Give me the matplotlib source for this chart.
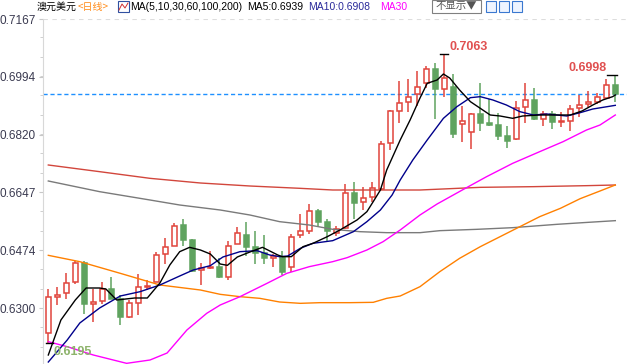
import matplotlib
matplotlib.use("Agg")
import matplotlib.pyplot as plt
from matplotlib.patches import Rectangle
from matplotlib.ticker import FixedLocator, AutoMinorLocator

plt.rcParams['font.family'] = ['Liberation Sans', 'Noto Sans CJK SC', 'DejaVu Sans']

# daily candles, AUD/USD (open, high, low, close)
opens = [0.6224, 0.6334, 0.6344, 0.6378, 0.6436, 0.6313, 0.6321, 0.6356, 0.6327, 0.6274,
         0.6316, 0.6362, 0.6377, 0.6461, 0.6486, 0.6549, 0.6504, 0.6414, 0.6421, 0.6423,
         0.6394, 0.6492, 0.6519, 0.6482, 0.6464, 0.6451, 0.6454, 0.6422, 0.6519, 0.6532,
         0.6591, 0.6557, 0.6526, 0.6539, 0.6646, 0.6617, 0.6634, 0.6656, 0.6794, 0.6892,
         0.6917, 0.6941, 0.6976, 0.7017, 0.6957, 0.6964, 0.6851, 0.6829, 0.6882, 0.6854,
         0.6849, 0.6817, 0.6806, 0.6904, 0.6924, 0.6866, 0.6881, 0.6857, 0.6862, 0.6899,
         0.6911, 0.6917, 0.6931, 0.6969]
highs = [0.6357, 0.6363, 0.6405, 0.6441, 0.6441, 0.6357, 0.6379, 0.6392, 0.6339, 0.6324,
         0.6402, 0.6384, 0.6469, 0.6510, 0.6556, 0.6566, 0.6507, 0.6434, 0.6471, 0.6451,
         0.6502, 0.6544, 0.6557, 0.6531, 0.6519, 0.6462, 0.6471, 0.6522, 0.6582, 0.6612,
         0.6597, 0.6567, 0.6547, 0.6672, 0.6677, 0.6664, 0.6679, 0.6801, 0.6894, 0.6981,
         0.6986, 0.7011, 0.7027, 0.7036, 0.7063, 0.7001, 0.6907, 0.6884, 0.6976, 0.6926,
         0.6886, 0.6846, 0.6921, 0.6974, 0.6959, 0.6891, 0.6891, 0.6887, 0.6909, 0.6939,
         0.6951, 0.6946, 0.6986, 0.6998]
lows = [0.6195, 0.6310, 0.6327, 0.6372, 0.6282, 0.6259, 0.6311, 0.6327, 0.6249, 0.6270,
        0.6279, 0.6354, 0.6377, 0.6432, 0.6486, 0.6487, 0.6408, 0.6369, 0.6416, 0.6390,
        0.6384, 0.6492, 0.6456, 0.6431, 0.6431, 0.6424, 0.6399, 0.6409, 0.6509, 0.6522,
        0.6546, 0.6502, 0.6517, 0.6536, 0.6566, 0.6594, 0.6619, 0.6654, 0.6774, 0.6856,
        0.6888, 0.6907, 0.6961, 0.6867, 0.6932, 0.6809, 0.6799, 0.6776, 0.6832, 0.6846,
        0.6804, 0.6779, 0.6804, 0.6856, 0.6864, 0.6846, 0.6837, 0.6842, 0.6832, 0.6874,
        0.6904, 0.6911, 0.6931, 0.6917]
closes = [0.6332, 0.6340, 0.6374, 0.6436, 0.6312, 0.6318, 0.6356, 0.6328, 0.6274, 0.6314,
          0.6362, 0.6366, 0.6459, 0.6482, 0.6547, 0.6504, 0.6411, 0.6419, 0.6424, 0.6393,
          0.6487, 0.6524, 0.6484, 0.6466, 0.6449, 0.6456, 0.6407, 0.6514, 0.6531, 0.6590,
          0.6559, 0.6532, 0.6536, 0.6644, 0.6616, 0.6629, 0.6659, 0.6791, 0.6891, 0.6916,
          0.6934, 0.6962, 0.7016, 0.6957, 0.6991, 0.6821, 0.6861, 0.6882, 0.6856, 0.6849,
          0.6816, 0.6801, 0.6901, 0.6924, 0.6866, 0.6882, 0.6859, 0.6862, 0.6897, 0.6909,
          0.6919, 0.6932, 0.6969, 0.6941]

# moving averages (candle index, value)
ma5_x = [0, 1.4, 3, 4.2, 5.7, 6.4, 7.6, 9.6, 11, 12.4, 13.5, 14.6, 15.7, 16.9, 18, 19.1,
         19.9, 21, 22.4, 23.8, 25.5, 26, 27, 28.3, 29.4, 31, 32.4, 34.3, 35.4, 36.1, 36.9,
         37.6, 39.1, 40.2, 41.3, 42.1, 43.2, 43.9, 44.6, 45.7, 46.9, 48, 49.1, 50.2, 51.6,
         52.7, 54.6, 56.1, 58, 59.3, 60.5, 61.6, 62.7, 63]
ma5_y = [0.6159, 0.6264, 0.6324, 0.6360, 0.6360, 0.6357, 0.6324, 0.6330, 0.6330, 0.6375,
         0.6429, 0.6469, 0.6482, 0.6474, 0.6462, 0.6432, 0.6428, 0.6453, 0.6468, 0.6482,
         0.6459, 0.6454, 0.6454, 0.6484, 0.6494, 0.6514, 0.6534, 0.6564, 0.6589, 0.6619,
         0.6654, 0.6714, 0.6804, 0.6864, 0.6930, 0.6974, 0.6984, 0.7002, 0.6990, 0.6954,
         0.6919, 0.6899, 0.6879, 0.6876, 0.6869, 0.6876, 0.6879, 0.6879, 0.6879, 0.6891,
         0.6909, 0.6924, 0.6934, 0.6939]
ma10_x = [0, 2.1, 3.5, 5.7, 8, 10.2, 12.4, 14.6, 16.1, 18, 19.4, 21.3, 23.2, 24.6, 25.7,
          26.6, 28, 29.4, 31.6, 33.9, 35.4, 36.9, 38.2, 39.1, 40.5, 42.1, 43.9, 45.4, 46.9,
          48, 49.4, 50.9, 52.4, 53.9, 55.4, 57.6, 59.1, 60.5, 62.1, 63]
ma10_y = [0.6138, 0.6204, 0.6255, 0.6300, 0.6336, 0.6349, 0.6369, 0.6396, 0.6414, 0.6427,
          0.6453, 0.6469, 0.6472, 0.6459, 0.6454, 0.6456, 0.6479, 0.6494, 0.6502, 0.6529,
          0.6559, 0.6594, 0.6639, 0.6684, 0.6744, 0.6804, 0.6869, 0.6904, 0.6931, 0.6934,
          0.6924, 0.6909, 0.6889, 0.6879, 0.6882, 0.6876, 0.6886, 0.6897, 0.6904, 0.6908]
ma30_x = [0, 2.1, 5, 8.7, 11.3, 13.2, 15.4, 17.6, 19.1, 21.3, 24.3, 26.5, 29, 31.6, 33.2,
          35.4, 37.2, 39.1, 41.3, 43.2, 46, 48.7, 51.6, 54.6, 57.2, 59.8, 61.3, 63]
ma30_y = [0.6199, 0.6184, 0.6159, 0.6134, 0.6144, 0.6165, 0.6234, 0.6284, 0.6309, 0.6334,
          0.6374, 0.6404, 0.6424, 0.6439, 0.6451, 0.6474, 0.6499, 0.6534, 0.6579, 0.6612,
          0.6654, 0.6694, 0.6734, 0.6769, 0.6799, 0.6834, 0.6849, 0.6879]
ma60_x = [0, 3.5, 8, 12.4, 16.9, 19.1, 21.3, 23.5, 25.7, 28, 30.2, 33.5, 36.1, 37.6, 39.1,
          41.3, 43.5, 45.7, 48, 50.2, 52.4, 54.6, 56.9, 59.1, 61.3, 63]
ma60_y = [0.6458, 0.6439, 0.6404, 0.6369, 0.6354, 0.6341, 0.6334, 0.6329, 0.6318, 0.6314,
          0.6316, 0.6316, 0.6317, 0.6329, 0.6336, 0.6364, 0.6409, 0.6449, 0.6484, 0.6514,
          0.6544, 0.6574, 0.6599, 0.6628, 0.6651, 0.6669]
ma100_x = [0, 5.7, 11.3, 14.6, 19.1, 22.4, 25.7, 29, 31.6, 34.6, 37.6, 41.3, 43.5, 47.6,
           51.6, 56.5, 59.4, 63]
ma100_y = [0.6681, 0.6649, 0.6624, 0.6609, 0.6594, 0.6579, 0.6559, 0.6549, 0.6536, 0.6529,
           0.6526, 0.6526, 0.6532, 0.6536, 0.6541, 0.6551, 0.6556, 0.6562]
ma200_x = [0, 5.7, 11.3, 16.9, 22.4, 28, 31.6, 41.3, 48, 53.9, 59.8, 63]
ma200_y = [0.6729, 0.6709, 0.6689, 0.6675, 0.6666, 0.6659, 0.6654, 0.6654, 0.6662, 0.6664,
           0.6667, 0.6669]

ytick_vals = [0.6300, 0.6474, 0.6647, 0.6820, 0.6994, 0.7167]
ytick_labels = ["0.6300", "0.6474", "0.6647", "0.6820", "0.6994", "0.7167"]
last_price = 0.6942

RED = '#e0443c'
GREEN = '#5fa35f'

W, H = 627, 364
fig = plt.figure(figsize=(W / 100, H / 100), dpi=100)
ax = fig.add_axes([43 / W, 0, 1 - 43 / W, (H - 19) / H])

n = len(opens)
for i in range(n):
    o, h, l, c = opens[i], highs[i], lows[i], closes[i]
    up = c >= o
    col = RED if up else GREEN
    ax.vlines(i, l, h, color=col, lw=1.1, zorder=2)
    lo, hi = min(o, c), max(o, c)
    ax.add_patch(Rectangle((i - 0.31, lo), 0.62, max(hi - lo, 0.00012),
                           facecolor='white' if up else GREEN, edgecolor=col,
                           lw=1.1, zorder=3))

ax.plot(ma200_x, ma200_y, color='#d2463c', lw=1.0, zorder=4)
ax.plot(ma100_x, ma100_y, color='#7a7a7a', lw=1.0, zorder=4)
ax.plot(ma60_x, ma60_y, color='#ff8000', lw=1.0, zorder=4)
ax.plot(ma30_x, ma30_y, color='#ff00ff', lw=1.0, zorder=4)
ax.plot(ma10_x, ma10_y, color='#00008b', lw=1.0, zorder=4)
ax.plot(ma5_x, ma5_y, color='black', lw=1.0, zorder=4)

ax.axhline(last_price, color='#1e90ff', lw=1.0, ls=(0, (3, 2)), zorder=1)
ax.axhline(0.7167, color='#dddddd', lw=0.8, ls=(0, (4, 4)), zorder=1)

# high / low markers
i_hi = highs.index(max(highs))
i_last = n - 1
i_lo = lows.index(min(lows))
ax.plot([i_hi - 0.45, i_hi + 0.45], [highs[i_hi]] * 2, color='black', lw=1.0, zorder=5)
ax.plot([i_last - 0.95, i_last + 0.2], [highs[i_last]] * 2, color='black', lw=1.0, zorder=5)
ax.plot([i_lo - 0.3, i_lo + 0.5], [lows[i_lo]] * 2, color='black', lw=1.0, zorder=5)
ax.annotate(f"{highs[i_hi]:.4f}", (i_hi, highs[i_hi]), xytext=(5, 7),
            textcoords='offset pixels', color='#e05050', fontsize=9,
            fontweight='bold', va='center', ha='left')
ax.annotate(f"{highs[i_last]:.4f}", (i_last, highs[i_last]), xytext=(-9, 7),
            textcoords='offset pixels', color='#e05050', fontsize=9,
            fontweight='bold', va='center', ha='left' if False else 'right')
ax.annotate(f"{lows[i_lo]:.4f}", (i_lo, lows[i_lo]), xytext=(5, -9),
            textcoords='offset pixels', color='#8db36b', fontsize=9,
            fontweight='bold', va='center', ha='left', zorder=6)

ax.set_xlim(-0.59, 64.3)
ax.set_ylim(0.6132, 0.7167)
ax.yaxis.set_major_locator(FixedLocator(ytick_vals))
ax.set_yticklabels(ytick_labels)
ax.yaxis.set_minor_locator(AutoMinorLocator(3))
ax.tick_params(axis='y', which='major', length=3, color='#c8c8c8', labelsize=8.5,
               labelcolor='#3a3a50', pad=2)
ax.tick_params(axis='y', which='minor', length=2, color='#c8c8c8')
ax.set_xticks([])
for s in ['top', 'right', 'bottom']:
    ax.spines[s].set_visible(False)
ax.spines['left'].set_color('#d8d8d8')

# header line
def px(x, y):
    return x / W, 1 - y / H

HFS = 7.5
fig.text(*px(37, 7), "澳元美元", fontsize=7.2, color='black', va='center',
         family=['Noto Sans CJK SC', 'DejaVu Sans'])
fig.text(*px(78, 7), "<日线>", fontsize=7.2, color='#ff8c1a', va='center',
         family=['Noto Sans CJK SC', 'DejaVu Sans'])
fig.patches.append(Rectangle(px(118, 12), 11 / W, 11 / H, transform=fig.transFigure,
                             facecolor='white', edgecolor='#3050a0', lw=0.8))
fig.lines.append(plt.Line2D([119 / W, 122 / W, 125 / W, 128 / W],
                            [1 - 10 / H, 1 - 4 / H, 1 - 8 / H, 1 - 3 / H],
                            transform=fig.transFigure, color='#d03030', lw=0.7))
fig.text(*px(130, 7), "MA(5,10,30,60,100,200)", fontsize=HFS, color='black', va='center')
fig.text(*px(247, 7), "MA5:0.6939", fontsize=HFS, color='black', va='center')
fig.text(*px(308, 7), "MA10:0.6908", fontsize=HFS, color='#2a2a9a', va='center')
fig.text(*px(380, 7), "MA30", fontsize=HFS, color='#ff00ff', va='center')
fig.patches.append(Rectangle(px(432, 13), 49 / W, 13 / H, transform=fig.transFigure,
                             facecolor='white', edgecolor='#808080', lw=0.8))
fig.text(*px(456, 6.5), "不显示▼", fontsize=7.5, color='#555555', va='center', ha='center',
         family=['Noto Sans CJK SC', 'DejaVu Sans'])
for bx in [486, 499, 512]:
    fig.patches.append(Rectangle(px(bx, 12), 10 / W, 11 / H, transform=fig.transFigure,
                                 facecolor='#eef4ff', edgecolor='#3a78d0', lw=0.8))

fig.savefig("out.png", dpi=100)
